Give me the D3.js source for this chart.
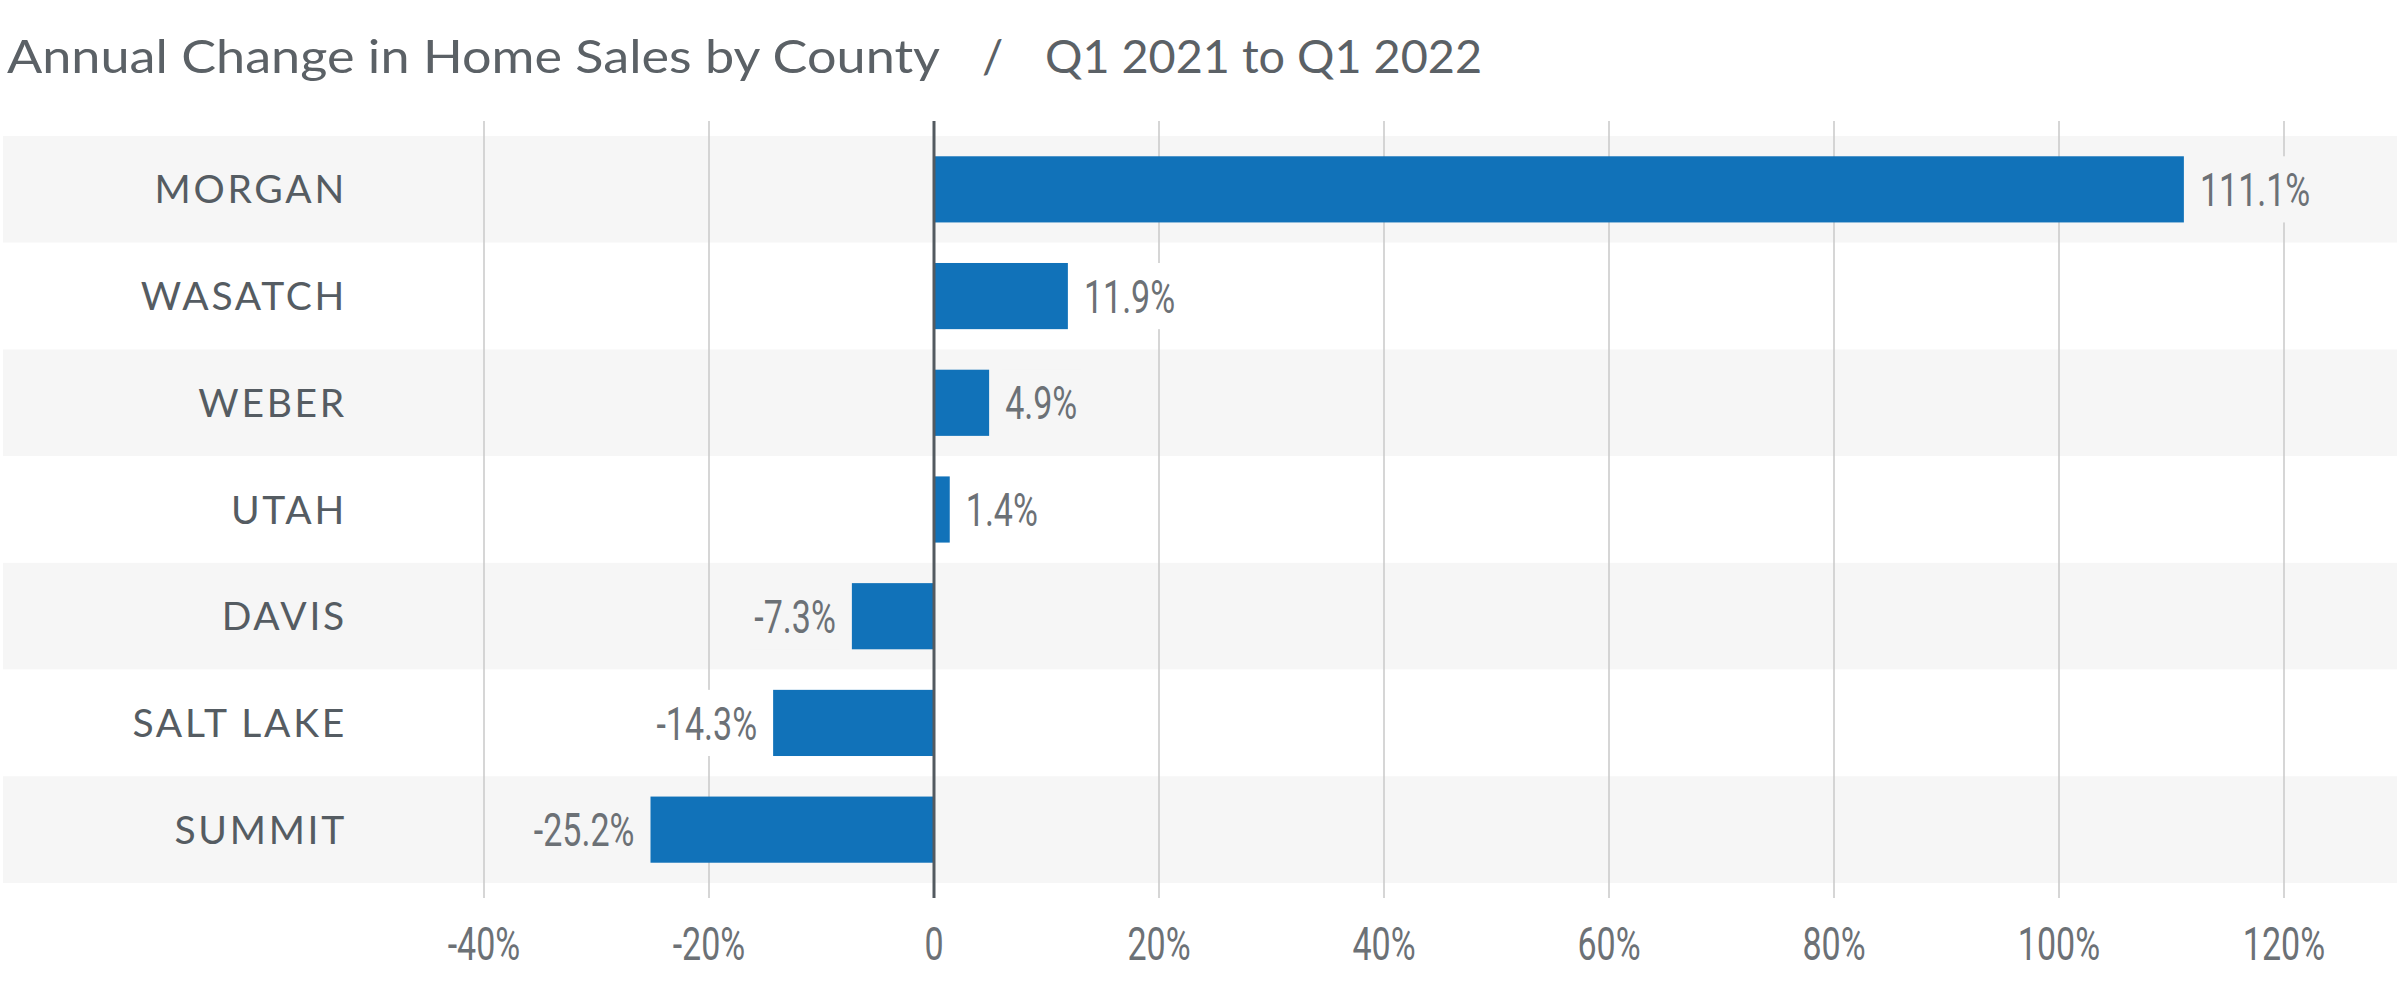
<!DOCTYPE html>
<meta charset="utf-8">
<style>
body { margin: 0; background: #fff; }
text { fill: #5b6166; }
.title { font: 47px Lato, "Open Sans", sans-serif; }
.cat { font: 39px Lato, sans-serif; letter-spacing: 0.07em; fill: #555c62; }
.num { font: 46px Roboto, sans-serif; fill: #6c7176; }
</style>
<body>
<script src="https://cdn.jsdelivr.net/npm/d3@7"></script>
<script>

var counties = ["MORGAN", "WASATCH", "WEBER", "UTAH", "DAVIS", "SALT LAKE", "SUMMIT"];
var changes = [111.1, 11.9, 4.9, 1.4, -7.3, -14.3, -25.2];
var ticks = [-40, -20, 0, 20, 40, 60, 80, 100, 120];

var width = 2400,
    height = 995,
    squeeze = 0.74; // the numbers are set in a narrow face

var svg = d3.select("body").append("svg")
    .attr("width", width)
    .attr("height", height);

var x = d3.scaleLinear()
    .domain([-40, 120])
    .range([484, 2284]);

var y = d3.scaleBand()
    .domain(counties)
    .range([136, 883]);

var barH = y.bandwidth() * 0.62;

function bandColor(i) { return i % 2 == 0 ? "#f6f6f6" : "#ffffff"; }
function pct(d) { return d == 0 ? "0" : d + "%"; }

// title, in three pieces
var titleParts = [
  { t: "Annual Change in Home Sales by County", x: 7, w: 933 },
  { t: "/", x: 982, w: 0 },
  { t: "Q1 2021 to Q1 2022", x: 1045, w: 437 }
];
svg.selectAll(".title")
    .data(titleParts)
  .enter().append("text")
    .attr("class", "title")
    .attr("x", function(d) { return d.x; })
    .attr("y", 73)
    .each(function(d) {
      if (d.w) d3.select(this).attr("textLength", d.w).attr("lengthAdjust", "spacingAndGlyphs");
    })
    .text(function(d) { return d.t; });

// striped rows
svg.selectAll(".band")
    .data(counties)
  .enter().append("rect")
    .attr("class", "band")
    .attr("x", 3)
    .attr("width", 2394)
    .attr("y", function(d) { return y(d); })
    .attr("height", y.bandwidth())
    .style("fill", function(d, i) { return bandColor(i); });

// grid
svg.selectAll(".grid")
    .data(ticks.filter(function(t) { return t != 0; }))
  .enter().append("line")
    .attr("class", "grid")
    .attr("x1", function(d) { return x(d); })
    .attr("x2", function(d) { return x(d); })
    .attr("y1", 121)
    .attr("y2", 898)
    .style("stroke", "#c9c9c9")
    .style("stroke-width", 1.5);

// category labels
svg.selectAll(".cat")
    .data(counties)
  .enter().append("text")
    .attr("class", "cat")
    .attr("x", 347)
    .attr("y", function(d) { return y(d) + y.bandwidth() / 2; })
    .attr("dy", ".36em")
    .attr("text-anchor", "end")
    .text(function(d) { return d; });

// bars
svg.selectAll(".bar")
    .data(changes)
  .enter().append("rect")
    .attr("class", "bar")
    .attr("x", function(d) { return x(Math.min(0, d)); })
    .attr("width", function(d) { return Math.abs(x(d) - x(0)); })
    .attr("y", function(d, i) { return y(counties[i]) + (y.bandwidth() - barH) / 2; })
    .attr("height", barH)
    .style("fill", "#1172b9");

// value labels, with a patch behind them that hides the grid
var lab = svg.selectAll(".lab")
    .data(changes)
  .enter().append("g")
    .attr("class", "lab");

lab.append("rect");
lab.append("g")
    .attr("transform", function(d, i) {
      var lx = d >= 0 ? x(d) + 16 : x(d) - 16;
      return "translate(" + lx + "," + (y(counties[i]) + y.bandwidth() / 2) + ") scale(" + squeeze + ",1)";
    })
  .append("text")
    .attr("class", "num")
    .attr("dy", ".36em")
    .attr("text-anchor", function(d) { return d >= 0 ? "start" : "end"; })
    .text(function(d) { return d.toFixed(1) + "%"; });

lab.each(function(d, i) {
  var g = d3.select(this),
      bb = g.select("text").node().getBBox(),
      lx = d >= 0 ? x(d) + 16 : x(d) - 16,
      w = bb.width * squeeze,
      left = d >= 0 ? lx : lx - w;
  g.select("rect")
      .attr("x", left - 4)
      .attr("width", w + 8)
      .attr("y", y(counties[i]) + (y.bandwidth() - barH) / 2)
      .attr("height", barH)
      .style("fill", bandColor(i));
});

// zero line
svg.append("line")
    .attr("x1", x(0))
    .attr("x2", x(0))
    .attr("y1", 121)
    .attr("y2", 898)
    .style("stroke", "#535a60")
    .style("stroke-width", 3);

// x axis labels
svg.selectAll(".tick")
    .data(ticks)
  .enter().append("g")
    .attr("class", "tick")
    .attr("transform", function(d) { return "translate(" + x(d) + ",960) scale(" + squeeze + ",1)"; })
  .append("text")
    .attr("class", "num")
    .attr("text-anchor", "middle")
    .text(pct);

</script>
